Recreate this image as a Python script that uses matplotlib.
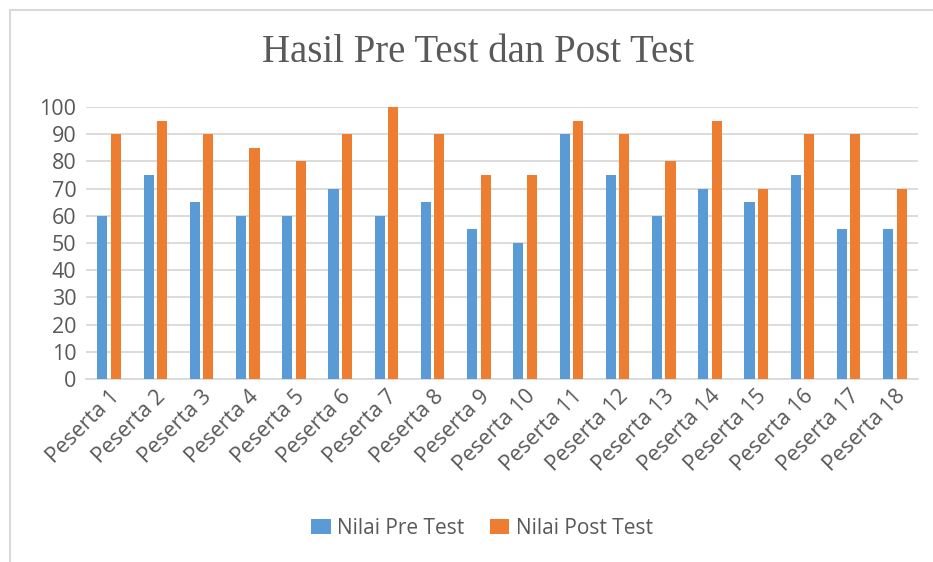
import matplotlib.pyplot as plt
import numpy as np
from matplotlib.patches import Rectangle

peserta = ['Peserta %d' % i for i in range(1, 19)]
pre_test = [60, 75, 65, 60, 60, 70, 60, 65, 55, 50, 90, 75, 60, 70, 65, 75, 55, 55]
post_test = [90, 95, 90, 85, 80, 90, 100, 90, 75, 75, 95, 90, 80, 95, 70, 90, 90, 70]
y_ticks = list(range(0, 101, 10))

W, H = 933, 562
fig = plt.figure(figsize=(W / 100, H / 100), dpi=100)

# chart border (cropped at right and bottom)
fig.patches.append(Rectangle((10 / W, -0.1), 1.2, 1 - 10 / H + 0.1,
                             transform=fig.transFigure, fill=False,
                             edgecolor='#d9d9d9', linewidth=1.5))

ax = fig.add_axes([86 / W, 1 - 379 / H, (918 - 86) / W, (379 - 107) / H])

x = np.arange(len(peserta))
w = 0.22
ax.bar(x - 0.145, pre_test, w, color='#5b9bd5', label='Nilai Pre Test', zorder=3)
ax.bar(x + 0.145, post_test, w, color='#ed7d31', label='Nilai Post Test', zorder=3)

ax.set_xlim(-0.5, len(peserta) - 0.5)
ax.set_ylim(0, 100)
ax.set_yticks(y_ticks)
ax.yaxis.grid(True, color='#d9d9d9', linewidth=1.3, zorder=0)
for s in ['top', 'right', 'left']:
    ax.spines[s].set_visible(False)
ax.spines['bottom'].set_color('#d9d9d9')
ax.spines['bottom'].set_linewidth(1.3)
ax.tick_params(length=0, colors='#595959', labelsize=15.5)
for t in ax.get_yticklabels():
    t.set_fontfamily('Open Sans')
ax.tick_params(axis='y', pad=7)
ax.set_xticks(x)
ax.set_xticklabels(peserta, rotation=45, ha='right', rotation_mode='anchor',
                   fontfamily='Open Sans', fontsize=15.5, color='#595959')
ax.tick_params(axis='x', pad=5)

fig.text(478 / W, 1 - 53 / H, 'Hasil Pre Test dan Post Test', ha='center', va='center',
         fontsize=28, color='#595959', fontfamily='Liberation Serif')

ax.legend(loc='center', bbox_to_anchor=(482 / W, 1 - 528 / H), bbox_transform=fig.transFigure,
          ncol=2, frameon=False, prop={'family': 'Open Sans', 'size': 15},
          labelcolor='#595959', handlelength=0.95, handleheight=0.7,
          columnspacing=1.2, handletextpad=0.3)

plt.savefig('out.png', dpi=100)
